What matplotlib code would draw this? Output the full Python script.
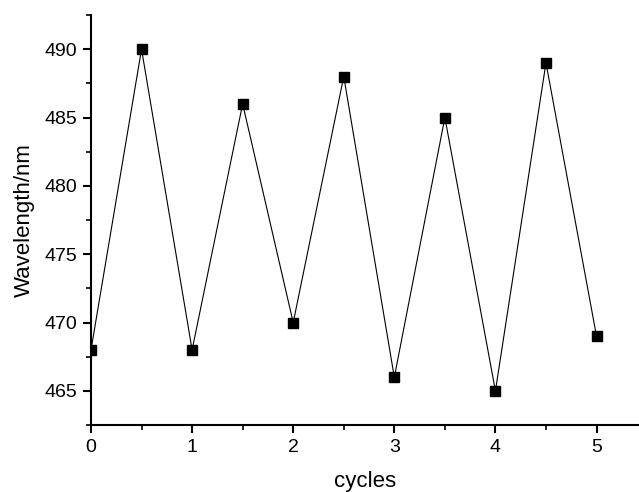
import numpy as np
import matplotlib as mpl
mpl.use("Agg")
import matplotlib.pyplot as plt
from matplotlib.ticker import MultipleLocator

cycles = [0, 0.5, 1, 1.5, 2, 2.5, 3, 3.5, 4, 4.5, 5]
wavelength = [468, 490, 468, 486, 470, 488, 466, 485, 465, 489, 469]

mpl.rcParams['font.family'] = ['Liberation Sans', 'DejaVu Sans']

fig = plt.figure(figsize=(6.39, 4.92), dpi=100)
ax = fig.add_axes([0.1424, 0.136, 0.8576, 0.8335])

ax.plot(cycles, wavelength, color='black', linewidth=0.8,
        marker='s', markersize=7, markerfacecolor='black', markeredgecolor='black')

ax.set_xlim(0, 5.42)
ax.set_ylim(462.5, 492.5)
ax.xaxis.set_major_locator(MultipleLocator(1))
ax.xaxis.set_minor_locator(MultipleLocator(0.5))
ax.yaxis.set_major_locator(MultipleLocator(5))
ax.yaxis.set_minor_locator(MultipleLocator(2.5))

for s in ['top', 'right']:
    ax.spines[s].set_visible(False)
for s in ['left', 'bottom']:
    ax.spines[s].set_linewidth(1.5)

ax.tick_params(which='major', direction='out', length=6, width=1.5, labelsize=14, pad=4)
ax.tick_params(which='minor', direction='out', length=3.5, width=1.2)

ax.set_xlabel("cycles", fontsize=16, labelpad=11)
ax.set_ylabel("Wavelength/nm", fontsize=16, labelpad=7)

plt.savefig("out.png", dpi=100)
